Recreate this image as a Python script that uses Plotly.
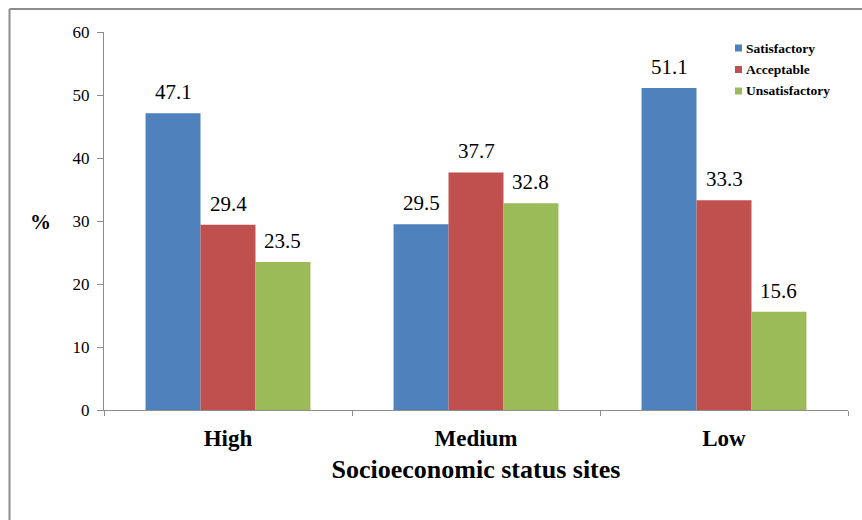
import plotly.graph_objects as go

categories = ["High", "Medium", "Low"]
satisfactory = [47.1, 29.5, 51.1]
acceptable = [29.4, 37.7, 33.3]
unsatisfactory = [23.5, 32.8, 15.6]
y_ticks = [0, 10, 20, 30, 40, 50, 60]

series = [
    ("Satisfactory", satisfactory, "#4F81BD"),
    ("Acceptable", acceptable, "#C0504D"),
    ("Unsatisfactory", unsatisfactory, "#9BBB59"),
]

serif = "Liberation Serif"

W, H = 862, 520
ML, MR, MT, MB = 104, 14, 32, 110
PW, PH = W - ML - MR, H - MT - MB


def px_x(p):
    return (p - ML) / PW


def px_y(p):
    return (H - MB - p) / PH


BAR_GAP = 0.335
bar_px = PW / len(categories) * (1 - BAR_GAP) / len(series)

fig = go.Figure()
for i, (name, vals, color) in enumerate(series):
    fig.add_trace(go.Bar(
        x=categories, y=vals, name=name,
        marker=dict(color=color, line=dict(width=0)),
        showlegend=False,
    ))
    # value labels above each bar
    for cat, v in zip(categories, vals):
        fig.add_annotation(
            x=cat, y=v, xref="x", yref="y",
            xshift=(i - 1) * bar_px, yshift=7,
            yanchor="bottom", xanchor="center", showarrow=False,
            text=f"{v:.1f}",
            font=dict(family=serif, size=21, color="#000"),
        )
    # legend entry: colour square and bold label
    ly = 48 + i * 21.5
    fig.add_shape(type="rect", xref="paper", yref="paper",
                  x0=px_x(735), x1=px_x(742), y0=px_y(ly - 3.5), y1=px_y(ly + 3.5),
                  fillcolor=color, line=dict(width=0))
    fig.add_annotation(
        xref="paper", yref="paper", x=px_x(744), y=px_y(ly),
        xanchor="left", yanchor="middle", showarrow=False,
        text=f"<b>{name}</b>",
        font=dict(family=serif, size=13.5, color="#000"),
    )

fig.update_layout(
    width=W, height=H,
    margin=dict(l=ML, r=MR, t=MT, b=MB),
    paper_bgcolor="white", plot_bgcolor="white",
    barmode="group", bargap=BAR_GAP, bargroupgap=0,
    font=dict(family=serif, color="#000"),
    showlegend=False,
)

fig.update_xaxes(
    showline=True, linecolor="#8c8c8c", linewidth=1,
    ticks="outside", ticklen=5, tickcolor="#8c8c8c", tickson="boundaries",
    tickfont=dict(family=serif, size=23, color="#000", weight="bold"),
    ticklabelstandoff=7,
    showgrid=False,
    title=dict(text="<b>Socioeconomic status sites</b>",
               font=dict(family=serif, size=26, color="#000"),
               standoff=10),
)
fig.update_yaxes(
    range=[0, 60], tickvals=y_ticks,
    showline=True, linecolor="#8c8c8c", linewidth=1,
    ticks="outside", ticklen=6, tickcolor="#8c8c8c",
    tickfont=dict(family=serif, size=17, color="#000"),
    ticklabelstandoff=4,
    showgrid=False, zeroline=False,
)

fig.add_annotation(
    xref="paper", yref="paper", x=px_x(53), y=px_y(222),
    xanchor="right", yanchor="middle", showarrow=False,
    text="<b>%</b>", font=dict(family=serif, size=21, color="#000"),
)

# frame lines along the top and left of the chart area
fig.add_shape(type="line", xref="paper", yref="paper",
              x0=px_x(9.5), x1=px_x(W + 5), y0=px_y(9), y1=px_y(9),
              line=dict(color="#8c8c8c", width=2))
fig.add_shape(type="line", xref="paper", yref="paper",
              x0=px_x(9.5), x1=px_x(9.5), y0=px_y(9), y1=px_y(H + 5),
              line=dict(color="#8c8c8c", width=2))

fig.write_html("out.html")
